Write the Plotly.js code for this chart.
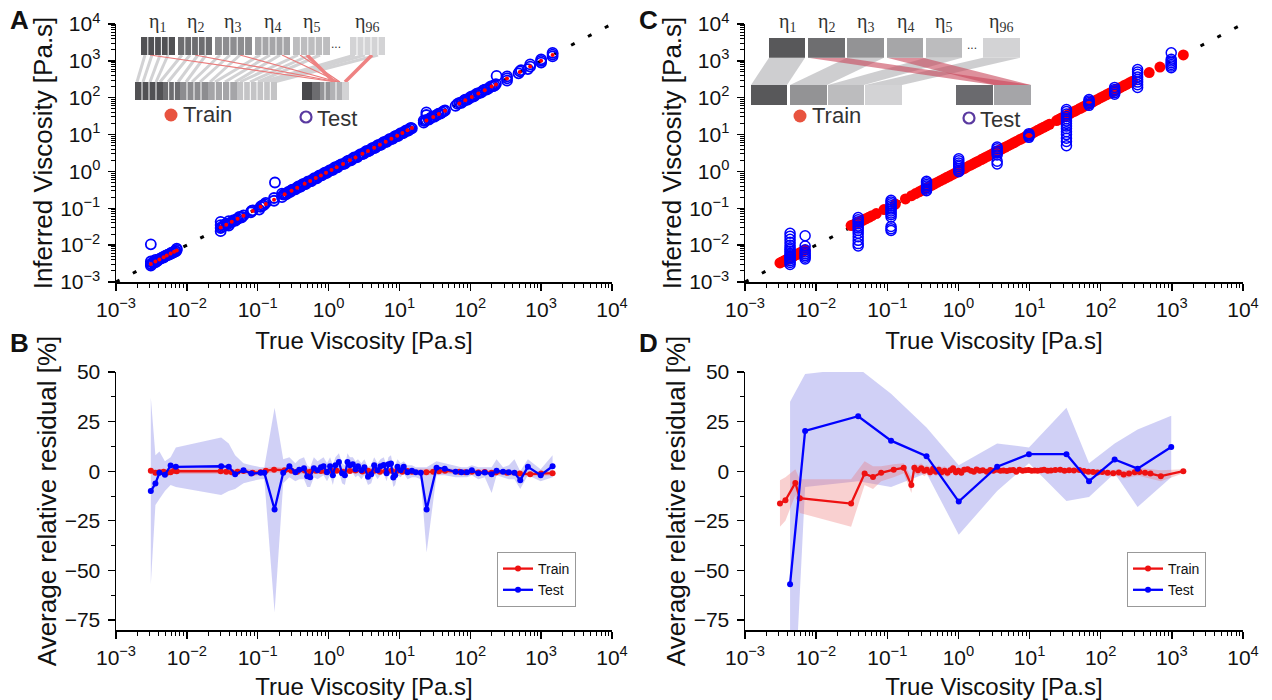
<!DOCTYPE html>
<html><head><meta charset="utf-8">
<script src="https://cdn.plot.ly/plotly-3.0.1.min.js"></script>
<style>html,body{margin:0;padding:0;background:#fff}#chart{width:1272px;height:700px}</style>
</head><body><div id="chart"></div>
<script>
// ---------- DATA ----------
const diagLine = [0.001, 10000];

// Panel A (random split)
const trainTrueA = [0.0031,0.0036,0.0041,0.0047,0.0052,0.0059,0.0066,0.0072,0.030,0.036,0.043,0.052,0.063,0.085,0.11,0.13,0.17,0.24,0.30,0.36,0.46,0.55,0.66,0.78,0.92,1.1,1.3,1.6,2.0,2.4,3.0,3.6,4.4,5.3,6.4,7.7,9.3,11,13,15,24,30,36,44,70,85,105,130,160,200,230,330,500,700,1000,1450];
const trainInfA  = [0.0031,0.0036,0.0041,0.0047,0.0052,0.0059,0.0066,0.0072,0.030,0.036,0.043,0.052,0.063,0.085,0.11,0.13,0.17,0.24,0.30,0.36,0.46,0.55,0.66,0.78,0.92,1.1,1.3,1.6,2.0,2.4,3.0,3.6,4.4,5.3,6.4,7.7,9.3,11,13,15,24,30,36,44,70,85,105,130,160,200,230,330,500,700,1000,1450];
const testTrueA = [0.0031,0.0031,0.0031,0.0031,0.0033,0.0036,0.0036,0.0039,0.0041,0.0044,0.0047,0.0049,0.0052,0.0055,0.0059,0.0062,0.0066,0.0070,0.0072,0.0072,
0.030,0.030,0.030,0.030,0.033,0.036,0.039,0.039,0.043,0.048,0.052,0.058,0.063,0.080,0.085,0.105,0.110,0.120,0.130,0.170,0.170,0.175,
0.22,0.22,0.24,0.26,0.28,0.30,0.33,0.36,0.39,0.42,0.46,0.50,0.55,0.60,0.66,0.72,0.78,0.85,0.92,1.0,1.1,1.2,1.3,1.4,1.6,1.8,2.0,2.2,2.4,2.7,3.0,3.3,3.6,4.0,4.4,4.8,5.3,5.8,6.4,7.0,7.7,8.5,9.3,10,11,12,13,14,15,
22,22,24,24,24,27,30,33,36,40,44,
62,70,78,85,95,105,115,130,145,160,180,200,220,230,235,
330,330,330,480,500,520,650,700,700,1000,1000,1000,1450,1450,1450,
0.0032,0.0034,0.0038,0.0043,0.0046,0.0050,0.0054,0.0057,0.0061,0.0064,0.0068,
0.031,0.034,0.037,0.041,0.046,0.050,0.055,0.060,0.082,0.115,0.125,
0.23,0.25,0.27,0.29,0.31,0.345,0.375,0.405,0.44,0.48,0.52,0.575,0.63,0.69,0.75,0.815,0.885,0.96,1.05,1.15,1.25,1.35,1.5,1.7,1.9,2.1,2.3,2.55,2.85,3.15,3.45,3.8,4.2,4.6,5.05,5.55,6.1,6.7,7.35,8.1,8.9,9.65,10.5,11.5,12.5,13.5,14.5,
23,26,28,31,35,38,42,
66,74,82,90,100,110,122,138,152,170,190,210];
const testInfA = [0.0028,0.0031,0.0036,0.0105,0.0033,0.0034,0.0040,0.0039,0.0042,0.0045,0.0046,0.0050,0.0053,0.0055,0.0058,0.0061,0.0065,0.0068,0.0080,0.0074,
0.024,0.029,0.035,0.043,0.033,0.038,0.034,0.045,0.042,0.046,0.052,0.056,0.064,0.078,0.088,0.092,0.11,0.12,0.14,0.16,0.19,0.50,
0.20,0.25,0.24,0.25,0.28,0.31,0.32,0.37,0.38,0.43,0.45,0.51,0.54,0.61,0.64,0.74,0.77,0.87,0.90,1.02,1.08,1.24,1.28,1.44,1.58,1.85,1.97,2.27,2.36,2.78,2.96,3.40,3.52,4.10,4.32,4.95,5.20,5.95,6.30,7.20,7.55,8.75,9.10,10.3,10.8,12.4,12.7,14.4,14.8,
21,24,25,34,40,27,31,33,37,40,45,
60,72,77,88,93,108,113,134,142,165,176,205,215,235,390,
290,335,380,460,520,560,600,700,800,900,1000,1100,1320,1480,1650,
0.0030,0.0035,0.0037,0.0044,0.0047,0.0051,0.0055,0.0057,0.0063,0.0064,0.0070,
0.031,0.036,0.036,0.040,0.048,0.049,0.058,0.058,0.085,0.118,0.13,
0.235,0.24,0.28,0.28,0.32,0.33,0.39,0.39,0.46,0.46,0.54,0.55,0.66,0.66,0.78,0.79,0.92,0.93,1.09,1.11,1.30,1.31,1.55,1.64,1.97,2.03,2.40,2.46,2.96,3.04,3.58,3.66,4.36,4.45,5.25,5.35,6.35,6.45,7.65,7.80,9.25,9.30,10.9,11.1,13.0,13.0,15.1,
23.5,25.5,29,30.5,36,37,43,
68,72,85,88,103,107,126,135,158,166,196,205];

// Panel B (residuals, random split)
const trainResB = [0.3,-0.8,-0.5,-0.3,-0.8,-0.5,0.2,0,0,-0.3,-0.5,-0.2,0.1,-0.8,-0.5,0.3,0.8,0.5,0.2,-0.3,0.4,-0.2,0.3,0.1,-0.3,0.2,0.3,-0.2,0.1,0.4,-0.1,0.2,0.3,-0.2,0.1,0.3,0.2,-0.3,0.1,-0.2,-0.5,-0.3,0,0.2,-0.3,-0.5,-0.2,-0.6,-0.4,-0.8,-0.6,-0.8,-1.2,-1.5,-1.2,-1.0];
const trainUpB  = [1.5,0.8,1.0,1.2,0.8,1.0,1.6,1.4,1.4,1.2,1.0,1.3,1.5,0.8,1.0,1.8,2.2,1.8,1.4,1.2,1.8,1.2,1.6,1.5,1.2,1.5,1.6,1.2,1.4,1.6,1.2,1.5,1.6,1.2,1.4,1.6,1.5,1.1,1.4,1.2,1.0,1.2,1.4,1.5,1.0,0.8,1.0,0.8,0.8,0.4,0.6,0.4,0.0,-0.3,0.0,0.2];
const trainLoB  = [-1.0,-2.5,-2.0,-1.8,-2.4,-2.0,-1.2,-1.4,-1.4,-1.8,-2.0,-1.7,-1.3,-2.4,-2.0,-1.2,-0.6,-0.8,-1.0,-1.8,-1.0,-1.6,-1.0,-1.3,-1.8,-1.1,-1.0,-1.6,-1.2,-0.8,-1.4,-1.1,-1.0,-1.6,-1.2,-1.0,-1.1,-1.7,-1.2,-1.6,-2.0,-1.8,-1.4,-1.1,-1.6,-1.8,-1.4,-2.0,-1.6,-2.0,-1.8,-2.0,-2.4,-2.7,-2.4,-2.2];
const testTrueB = [0.0031,0.0036,0.0041,0.0049,0.0059,0.0070,0.0305,0.039,0.048,0.063,0.081,0.11,0.124,0.173,0.229,0.28,0.34,0.385,0.45,0.50,0.55,0.62,0.70,0.78,0.85,0.95,1.05,1.15,1.25,1.4,1.55,1.7,1.85,2.0,2.2,2.4,2.6,2.9,3.2,3.6,4.0,4.4,4.9,5.4,6.0,6.6,7.0,7.6,8.2,8.7,9.4,10.4,11.5,13,15,17,20,24.2,33.4,43.6,62,75,90,105,130,160,200,235,290,350,420,507,650,985,1450];
const testResB = [-10,-6.2,-0.8,-1.8,2.9,2.2,2.5,2.2,-1.5,0.5,-1.2,-0.8,-0.8,-19.3,-0.8,2.5,-0.5,0.8,1.5,-2.5,-3,1.5,0.5,2,2.5,-0.5,2.5,-2,3,4.7,-1,-2,4.7,3,3.5,1,2.5,0.5,2,-2.8,-1.5,3,0.5,2.5,3.2,-1,3.5,3.9,-3.2,-2,2.2,0.5,2.2,-0.5,0.2,-0.5,-0.8,-19.3,1.8,1.2,-0.3,-0.5,-0.5,0.5,-1,-0.6,-1.5,0.2,-0.3,-0.5,-0.8,-4.5,2.2,-2,2.5];
const testUpB = [37,8,10,5,7,12,17,14,8,4,3,2,2,32,6,7,4,6,7,3,2,7,5,6,7,4,7,3,7,9,4,3,9,7,7,5,6,4,6,2,3,7,4,6,7,3,7,8,2,3,6,4,5,3,3,2,2,2,5,4,3,2,2,3,2,2,2,6,2,3,6,0,6,1,8];
const testLoB = [-57,-17,-14,-10,-7,-8,-12,-10,-9,-6,-5,-4,-4,-71,-6,-3,-5,-4,-4,-8,-8,-3,-4,-3,-2,-5,-2,-7,-1,0,-6,-7,0,-1,-1,-3,-2,-4,-2,-7,-6,-1,-4,-2,-1,-5,-1,-1,-8,-7,-2,-3,-1,-4,-3,-3,-4,-41,-2,-2,-3,-3,-3,-2,-4,-3,-11,-2,-3,-4,-4,-9,-2,-5,-3];

// Panel C (viscosity-block split)
const trainTrueC = [0.0031,0.0033,0.0035,0.0037,0.0039,0.0041,0.0044,0.0047,0.0050,0.0054,0.0058,0.0062,0.0066,0.0070,
0.031,0.033,0.035,0.037,0.040,0.043,0.046,0.050,0.055,0.061,0.070,0.090,0.13,0.18,0.22,0.25,0.28,0.31,0.34,0.38,0.42,0.46,0.51,0.56,0.62,0.68,0.75,0.83,0.91,1.0,1.1,1.2,1.3,1.45,1.6,1.75,1.9,2.1,2.3,2.55,2.8,3.1,3.4,3.75,4.1,4.5,5.0,5.5,6.0,6.6,7.3,8.0,8.8,9.7,10.7,11.8,13,14.3,15.7,17.3,19,
24,26,28,31,34,38,42,46,51,56,62,68,75,82,90,100,110,120,132,145,160,175,190,210,230,255,280,480,680,1450];
const trainInfC = [0.0033,0.0035,0.0037,0.0039,0.0041,0.0043,0.0046,0.0049,0.0053,0.0056,0.0061,0.0064,0.0069,0.0073,
0.034,0.035,0.037,0.039,0.042,0.045,0.048,0.052,0.057,0.063,0.072,0.092,0.13,0.18,0.22,0.25,0.28,0.31,0.34,0.38,0.42,0.46,0.51,0.56,0.62,0.68,0.75,0.83,0.91,1.0,1.1,1.2,1.3,1.45,1.6,1.75,1.9,2.1,2.3,2.55,2.8,3.1,3.4,3.75,4.1,4.5,5.0,5.5,6.0,6.6,7.3,8.0,8.8,9.7,10.7,11.8,13,14.3,15.7,17.3,19,
24,26,28,31,34,38,42,46,51,56,62,68,75,82,90,100,110,120,132,145,160,175,190,210,230,255,280,480,680,1450];
const testTrueC = [0.0043,0.0043,0.0043,0.0043,0.0043,0.0043,0.0043,0.0043,0.0043,0.0043,0.0043,0.0043,0.0043,0.0043,0.0043,0.0043,
0.0070,0.0070,0.0070,0.0070,0.0070,0.0070,0.0070,0.0070,
0.039,0.039,0.039,0.039,0.039,0.039,0.039,0.039,0.039,0.039,0.039,0.039,
0.113,0.113,0.113,0.113,0.113,0.113,0.113,0.113,0.113,0.113,0.113,0.113,0.113,
0.356,0.356,0.356,0.356,0.356,0.356,0.356,
1.01,1.01,1.01,1.01,1.01,1.01,1.01,1.01,
3.5,3.5,3.5,3.5,3.5,3.5,3.5,
9.8,9.8,9.8,9.8,
33,33,33,33,33,33,33,33,33,33,33,33,33,33,
68.5,68.5,68.5,68.5,68.5,
157,157,157,157,157,
330,330,330,330,330,330,330,330,
980,980,980,980,980,980,980];
const testInfC = [0.0030,0.0034,0.0038,0.0042,0.0046,0.0050,0.0055,0.0060,0.0068,0.0076,0.0085,0.0100,0.0120,0.0145,0.0175,0.0210,
0.0042,0.0047,0.0052,0.0058,0.0065,0.0075,0.0095,0.0180,
0.0095,0.0110,0.0135,0.0170,0.0210,0.0250,0.0290,0.0330,0.0380,0.0430,0.0490,0.0560,
0.025,0.028,0.032,0.058,0.067,0.075,0.085,0.095,0.105,0.118,0.132,0.148,0.165,
0.30,0.33,0.36,0.40,0.44,0.49,0.54,
0.98,1.08,1.2,1.35,1.5,1.7,1.95,2.2,
1.6,1.9,2.8,3.2,3.6,4.1,4.6,
8.4,9.1,9.8,10.6,
5,6.5,8,10,12,14.5,17,20,23.5,27,31,36,42,48,
62,68,74,81,89,
125,138,152,168,190,
190,225,265,310,365,430,500,580,
650,720,800,890,990,1100,1650];

// Panel D (residuals, block split)
const trainTrueD = [0.0031,0.0037,0.0051,0.0059,0.031,0.048,0.063,0.082,0.123,0.17,0.218,0.24,0.27,0.30,0.33,0.36,0.40,0.44,0.48,0.53,0.58,0.64,0.70,0.77,0.84,0.92,1.0,1.1,1.2,1.35,1.5,1.65,1.8,2.0,2.2,2.5,2.8,3.1,3.5,3.9,4.3,4.8,5.3,5.9,6.5,7.2,8.0,8.8,9.7,10.7,11.8,13,14.5,16,18,20,23,27,31,36,42,50,58,67,78,90,105,125,150,180,210,250,300,350,420,500,700,1450];
const trainResD = [-16.3,-14.6,-5.9,-13.6,-16.3,-1.2,-2.9,-0.8,0.8,1.7,-7,1.7,0.5,1.5,0.2,0.8,-0.5,1.2,-0.3,0.8,-0.5,0.3,-0.8,0.5,1.5,-0.5,0.3,-0.8,0.8,1.0,0.2,-0.3,0.9,0.3,0.5,-0.2,0.6,0.3,0.8,0.2,0.4,0.1,0.5,0.6,-0.2,0.7,0.3,0.5,0.6,0.2,0.4,0.3,0.5,0.7,0.2,0.4,0.6,0.8,0.3,0.5,0.4,0.6,0.1,-0.3,-0.4,-0.6,-0.4,-0.8,-1.0,-0.7,-1.7,-1.2,-0.5,-0.4,-0.8,-1.2,-2.5,0];
const trainUpD = [-4.5,-3,1,-4,-4,5,2.5,2.5,3.5,4,-3,4,3,4,2.5,3,2,3.5,2,3,2,2.5,1.5,2.5,3.5,1.5,2,1,2.5,2.5,1.5,1,2,1.5,1.5,1,1.5,1.5,2,1.2,1.5,1.2,1.5,1.5,1,1.8,1.2,1.5,1.5,1.2,1.5,1.4,1.6,1.8,1.2,1.5,1.8,2,1.4,1.6,1.5,1.8,1.3,1,1,0.8,1,0.8,0.6,1,0.2,0.8,1.5,1.6,1.4,1.2,0.5,1];
const trainLoD = [-28,-25,-12,-21,-28,-7,-9,-5,-3,-1,-11,-1,-2,-1,-2.5,-1.5,-3,-1,-2.5,-1.5,-3,-2,-3,-1.5,-0.5,-2.5,-1.5,-2.5,-1,-0.5,-1.2,-1.6,-0.3,-1,-0.6,-1.4,-0.4,-1,-0.4,-0.8,-0.7,-1,-0.5,-0.3,-1.4,-0.4,-0.6,-0.5,-0.3,-0.8,-0.7,-0.8,-0.6,-0.4,-0.8,-0.7,-0.6,-0.4,-0.8,-0.6,-0.7,-0.6,-1.1,-1.6,-1.8,-2,-1.8,-2.4,-2.6,-2.4,-3.6,-3.2,-2.5,-2.4,-3,-3.6,-5,-1];
const testTrueD = [0.0043,0.0070,0.039,0.113,0.356,1.01,3.5,9.8,33,68.5,157,330,980];
const testResD  = [-56.9,20.3,27.7,15.4,7.6,-15.3,2.3,8.6,8.6,-5,5.9,1.3,12.2];
const testUpD   = [35,49,52,39,22,3,14,12,32,4,14,21,28];
const testLoD   = [-160,-8,-5,-8,-1,-32,-10,4,-15,-13,-1,-18,-3];

// tick labels
const decadeVals = [0.001,0.01,0.1,1,10,100,1000,10000];
const decadeText = ['10<sup>−3</sup>','10<sup>−2</sup>','10<sup>−1</sup>','10<sup>0</sup>','10<sup>1</sup>','10<sup>2</sup>','10<sup>3</sup>','10<sup>4</sup>'];
const resTickVals = [-75,-50,-25,0,25,50];

// ---------- STYLE / LAYOUT ----------
const W = 1272, H = 700;
const X = px => px / W, Y = py => 1 - py / H;
const FONT = 'Liberation Sans, Arial, sans-serif';
const SERIF = 'Liberation Serif, Times New Roman, serif';
const RED = '#ff0000', BLUE = '#0000ff';

const minorLog = [];
for (let k = -3; k < 4; k++) for (let m = 2; m <= 9; m++) minorLog.push(m * Math.pow(10, k));

function baseAxis(domain, anchor, isY) {
  return {
    domain: domain, anchor: anchor,
    ticks: 'outside', ticklen: 7, tickwidth: 1.3, tickcolor: '#000',
    showline: true, linecolor: '#000', linewidth: 1.5, showgrid: false, zeroline: false,
    tickfont: {family: FONT, size: 21, color: '#111'},
    ticklabelstandoff: isY ? 3 : 1
  };
}
function logAxis(domain, anchor, title, tsize, isY) {
  return Object.assign(baseAxis(domain, anchor, isY), {
    type: 'log', range: [-3, 4],
    tickmode: 'array', tickvals: decadeVals, ticktext: decadeText,
    minor: {tickmode: 'array', tickvals: minorLog, ticks: 'outside', ticklen: 4, tickwidth: 1, tickcolor: '#000', showgrid: false},
    title: {text: title, font: {family: FONT, size: tsize, color: '#111'}, standoff: isY ? 0 : 12}
  });
}
function resAxis(domain, anchor) {
  return Object.assign(baseAxis(domain, anchor, true), {
    range: [-80, 50],
    tickmode: 'array', tickvals: resTickVals,
    minor: {tickmode: 'array', tickvals: [-62.5,-37.5,-12.5,12.5,37.5], ticks: 'outside', ticklen: 4, tickwidth: 1, tickcolor: '#000', showgrid: false},
    title: {text: 'Average relative residual [%]', font: {family: FONT, size: 26, color: '#111'}, standoff: 0}
  });
}

const dxA = [X(116), X(612)], dxC = [X(745), X(1243)];
const dyTop = [Y(282), Y(24)], dyBot = [Y(630), Y(372)];

const traces = [];
// A
traces.push({x: diagLine, y: diagLine, xaxis: 'x', yaxis: 'y', mode: 'lines', line: {color: '#000', width: 3, dash: '4px,15px'}, showlegend: false, hoverinfo: 'skip'});
traces.push({x: testTrueA, y: testInfA, xaxis: 'x', yaxis: 'y', mode: 'markers', marker: {symbol: 'circle-open', size: 10, color: BLUE, line: {width: 1.8}}, showlegend: false});
traces.push({x: trainTrueA, y: trainInfA, xaxis: 'x', yaxis: 'y', mode: 'markers', marker: {size: 4, color: RED}, showlegend: false});
// C
traces.push({x: diagLine, y: diagLine, xaxis: 'x2', yaxis: 'y2', mode: 'lines', line: {color: '#000', width: 3, dash: '4px,15px'}, showlegend: false, hoverinfo: 'skip'});
traces.push({x: trainTrueC, y: trainInfC, xaxis: 'x2', yaxis: 'y2', mode: 'markers', marker: {size: 11, color: RED}, showlegend: false});
traces.push({x: testTrueC, y: testInfC, xaxis: 'x2', yaxis: 'y2', mode: 'markers', marker: {symbol: 'circle-open', size: 10, color: BLUE, line: {width: 1.5}}, showlegend: false});

function residualSet(xa, ya, leg, tTrue, tRes, tUp, tLo, sTrue, sRes, sUp, sLo) {
  traces.push({x: sTrue, y: sLo, xaxis: xa, yaxis: ya, mode: 'lines', line: {width: 0}, showlegend: false, hoverinfo: 'skip'});
  traces.push({x: sTrue, y: sUp, xaxis: xa, yaxis: ya, mode: 'lines', line: {width: 0}, fill: 'tonexty', fillcolor: 'rgba(120,120,230,0.35)', showlegend: false, hoverinfo: 'skip'});
  traces.push({x: tTrue, y: tLo, xaxis: xa, yaxis: ya, mode: 'lines', line: {width: 0}, showlegend: false, hoverinfo: 'skip'});
  traces.push({x: tTrue, y: tUp, xaxis: xa, yaxis: ya, mode: 'lines', line: {width: 0}, fill: 'tonexty', fillcolor: 'rgba(235,110,110,0.32)', showlegend: false, hoverinfo: 'skip'});
  traces.push({x: tTrue, y: tRes, xaxis: xa, yaxis: ya, mode: 'lines+markers', name: 'Train', legend: leg, line: {color: '#ee1111', width: 2.3}, marker: {size: 6, color: '#ee1111'}});
  traces.push({x: sTrue, y: sRes, xaxis: xa, yaxis: ya, mode: 'lines+markers', name: 'Test', legend: leg, line: {color: BLUE, width: 2.3}, marker: {size: 6, color: BLUE}});
}
residualSet('x3', 'y3', 'legend', trainTrueA, trainResB, trainUpB, trainLoB, testTrueB, testResB, testUpB, testLoB);
residualSet('x4', 'y4', 'legend2', trainTrueD, trainResD, trainUpD, trainLoD, testTrueD, testResD, testUpD, testLoD);

// ---------- INSET SCHEMATICS ----------
const shapes = [];
const P = (x, y) => X(x) + ',' + Y(y);
function rect(x0, x1, y0, y1, c, cells) {
  shapes.push({type: 'rect', xref: 'paper', yref: 'paper', x0: X(x0), x1: X(x1), y0: Y(y1), y1: Y(y0), fillcolor: c, line: {width: 0}, layer: 'above'});
  if (cells > 1) for (let i = 1; i < cells; i++) {
    const xx = x0 + (x1 - x0) * i / cells;
    shapes.push({type: 'line', xref: 'paper', yref: 'paper', x0: X(xx), x1: X(xx), y0: Y(y1), y1: Y(y0), line: {color: '#fff', width: 1}, layer: 'above'});
  }
}
function seg(xa, ya, xb, yb, c, w) {
  shapes.push({type: 'line', xref: 'paper', yref: 'paper', x0: X(xa), y0: Y(ya), x1: X(xb), y1: Y(yb), line: {color: c, width: w}, layer: 'above'});
}
function quad(t0, t1, ty, b0, b1, by, c) {
  shapes.push({type: 'path', xref: 'paper', yref: 'paper', path: 'M' + P(t0, ty) + 'L' + P(t1, ty) + 'L' + P(b1, by) + 'L' + P(b0, by) + 'Z', fillcolor: c, line: {width: 0}, layer: 'above'});
}
// Inset A streaks
[[145,137],[152,143],[160,150],[168,156],[182,160],[190,168],[198,178],[206,186],[220,192],[230,200],[240,210],[260,215],[270,225],[280,235],[298,240],[310,250],[320,258],[355,262],[365,268],[378,274]].forEach(p => seg(p[0], 55, p[1], 82, '#d2d2d4', 3));
[[150,336],[195,337],[240,338],[282,339],[300,340]].forEach(p => seg(p[0], 55, p[1], 82, '#ea7b7b', 1.2));
seg(307, 55, 334, 82, '#ee8282', 3.5);
seg(372, 55, 345, 82, '#ee8282', 3.5);
// Inset A top blocks
[[141,175,'#515154'],[178,212,'#6d6d70'],[215,252,'#8d8d90'],[255,290,'#a5a5a8'],[293,330,'#bdbdbf'],[350,385,'#d3d3d5']].forEach(g => rect(g[0], g[1], 37, 55, g[2], 5));
// Inset A bottom blocks
[[135,163,'#515154',4],[163,180,'#6d6d70',3],[180,208,'#8d8d90',4],[208,237,'#a5a5a8',4],[237,277,'#c4c4c6',6]].forEach(g => rect(g[0], g[1], 82, 100, g[2], g[3]));
[[302,312,'#48484b',1],[312,320,'#6d6d70',1],[320,330,'#949497',2],[330,342,'#b2b2b5',2],[342,349,'#d3d3d5',1]].forEach(g => rect(g[0], g[1], 82, 100, g[2], g[3]));

// Inset C
quad(769, 805, 57.7, 751, 787, 85, 'rgba(190,190,192,0.75)');
quad(847, 884, 57.7, 790, 827, 85, 'rgba(190,190,192,0.75)');
quad(926, 962, 57.7, 828, 864, 85, 'rgba(190,190,192,0.75)');
quad(983, 1020, 57.7, 865, 902, 85, 'rgba(190,190,192,0.75)');
quad(808, 845, 57.7, 994, 1031, 85, 'rgba(200,70,90,0.6)');
quad(887, 923, 57.7, 994, 1031, 85, 'rgba(200,70,90,0.6)');
[[769,805,'#58585a'],[808,845,'#6e6e70'],[847,884,'#939395'],[887,923,'#a6a6a8'],[926,962,'#bcbcbe'],[983,1020,'#d3d3d5']].forEach(g => rect(g[0], g[1], 38, 57.7, g[2], 1));
[[751,787,'#58585a'],[790,827,'#939395'],[828,864,'#bcbcbe'],[865,902,'#d3d3d5'],[956,993,'#6a6a6e'],[994,1031,'#a5a5a8']].forEach(g => rect(g[0], g[1], 85, 105, g[2], 1));

// inset legend markers
function circ(cx, cy, r, fill, lineC, lw) {
  shapes.push({type: 'circle', xref: 'paper', yref: 'paper', x0: X(cx - r), x1: X(cx + r), y0: Y(cy + r), y1: Y(cy - r), fillcolor: fill, line: {color: lineC, width: lw}, layer: 'above'});
}
circ(171, 115, 6.5, '#e8533f', '#e8533f', 0);
circ(306, 117, 5.5, 'rgba(0,0,0,0)', '#5a3aa0', 2.2);
circ(800, 116, 6.5, '#e8533f', '#e8533f', 0);
circ(969, 118, 5.5, 'rgba(0,0,0,0)', '#5a3aa0', 2.2);

const annotations = [];
function txt(x, y, t, size, fam, extra) {
  annotations.push(Object.assign({xref: 'paper', yref: 'paper', x: X(x), y: Y(y), text: t, showarrow: false, xanchor: 'center', yanchor: 'middle', font: {family: fam, size: size, color: '#333'}}, extra || {}));
}
const etaLabels = ['η<sub>1</sub>','η<sub>2</sub>','η<sub>3</sub>','η<sub>4</sub>','η<sub>5</sub>','η<sub>96</sub>'];
[157, 195, 233, 272, 311, 367].forEach((x, i) => txt(x, 22, etaLabels[i], 20, SERIF));
[787, 826, 865, 905, 944, 1001].forEach((x, i) => txt(x, 22, etaLabels[i], 20, SERIF));
txt(336, 44, '...', 12, FONT);
txt(972, 45, '...', 12, FONT);
txt(181, 115, 'Train', 22, FONT, {xanchor: 'left'});
txt(315, 118, 'Test', 22, FONT, {xanchor: 'left'});
txt(810, 116, 'Train', 22, FONT, {xanchor: 'left'});
txt(978, 119, 'Test', 22, FONT, {xanchor: 'left'});
// panel letters
[['A', 19, 20], ['B', 19, 343], ['C', 648, 20], ['D', 648, 343]].forEach(l => txt(l[1], l[2], '<b>' + l[0] + '</b>', 26, FONT, {font: {family: FONT, size: 26, color: '#111'}}));

const legendStyle = {xanchor: 'left', yanchor: 'top', bgcolor: '#fff', bordercolor: '#999', borderwidth: 1, font: {family: FONT, size: 14, color: '#111'}, tracegroupgap: 0, itemwidth: 30, traceorder: 'normal'};

const layout = {
  width: W, height: H, margin: {l: 0, r: 0, t: 0, b: 0},
  paper_bgcolor: '#fff', plot_bgcolor: 'rgba(0,0,0,0)',
  showlegend: true,
  xaxis: logAxis(dxA, 'y', 'True Viscosity [Pa.s]', 24, false),
  yaxis: logAxis(dyTop, 'x', 'Inferred Viscosity [Pa.s]', 26, true),
  xaxis2: logAxis(dxC, 'y2', 'True Viscosity [Pa.s]', 24, false),
  yaxis2: logAxis(dyTop, 'x2', 'Inferred Viscosity [Pa.s]', 26, true),
  xaxis3: logAxis(dxA, 'y3', 'True Viscosity [Pa.s]', 24, false),
  yaxis3: resAxis(dyBot, 'x3'),
  xaxis4: logAxis(dxC, 'y4', 'True Viscosity [Pa.s]', 24, false),
  yaxis4: resAxis(dyBot, 'x4'),
  legend: Object.assign({x: X(497), y: Y(552)}, legendStyle),
  legend2: Object.assign({x: X(1127), y: Y(552)}, legendStyle),
  shapes: shapes, annotations: annotations
};
Plotly.newPlot('chart', traces, layout, {staticPlot: true});
</script></body></html>
